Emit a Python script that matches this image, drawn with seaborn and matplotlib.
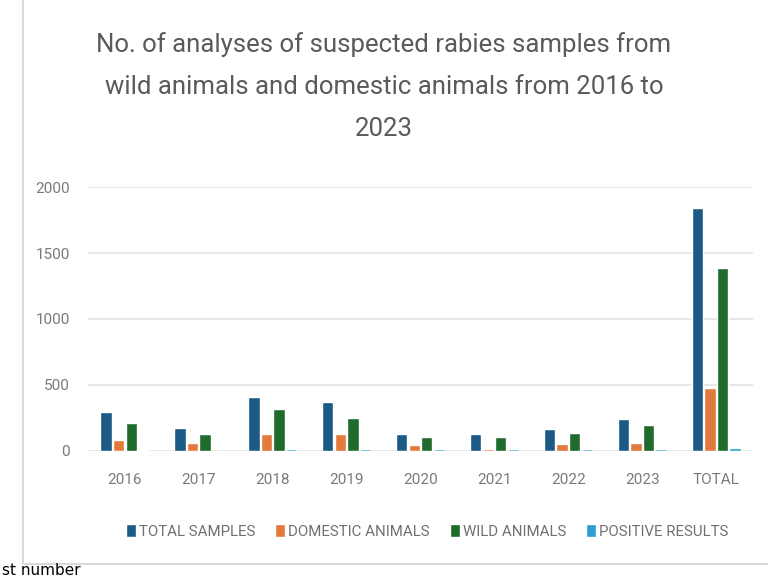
import matplotlib
matplotlib.use('Agg')
import matplotlib.pyplot as plt
from matplotlib.patches import Rectangle
import numpy as np
import pandas as pd
import seaborn as sns

# %% data
categories = ['2016', '2017', '2018', '2019', '2020', '2021', '2022', '2023', 'TOTAL']
total_samples = [295, 177, 412, 371, 126, 126, 170, 245, 1844]
domestic_animals = [83, 58, 132, 132, 43, 12, 51, 64, 480]
wild_animals = [215, 126, 316, 253, 109, 109, 139, 200, 1384]
positive_results = [4, 3, 18, 16, 14, 12, 12, 14, 22]
series_names = ['TOTAL SAMPLES', 'DOMESTIC ANIMALS', 'WILD ANIMALS', 'POSITIVE RESULTS']
colors = ['#1b5a85', '#e27a3c', '#1f6b2c', '#2a9fd0']

df = pd.DataFrame({'year': categories,
                   series_names[0]: total_samples,
                   series_names[1]: domestic_animals,
                   series_names[2]: wild_animals,
                   series_names[3]: positive_results})
df_long = df.melt(id_vars='year', var_name='series', value_name='count')

# %% plot
sns.set_theme(style='white')
plt.rcParams['font.family'] = ['Roboto', 'DejaVu Sans']

fig = plt.figure(figsize=(7.68, 5.77), dpi=100)
ax = fig.add_axes([0.1146, 0.2184, 0.866, 0.4575])

sns.barplot(data=df_long, x='year', y='count', hue='series', order=categories,
            hue_order=series_names, palette=colors, width=0.68, gap=0.1,
            saturation=1, ax=ax)

ax.set_ylim(0, 2000)
ax.set_yticks([0, 500, 1000, 1500, 2000])
ax.yaxis.grid(True, color='#e3e3e3', linewidth=1.2)
ax.set_axisbelow(True)
sns.despine(ax=ax, left=True, bottom=True)
ax.set_xlabel('')
ax.set_ylabel('')
ax.tick_params(axis='both', colors='#7a7a7a', labelsize=11, length=0)
ax.tick_params(axis='x', pad=16)
ax.tick_params(axis='y', pad=13)

ax.legend(loc='center', bbox_to_anchor=(0.51, -0.305), ncol=4, frameon=False,
          fontsize=10.8, labelcolor='#707070', handlelength=0.7, handleheight=0.9,
          handletextpad=0.2, columnspacing=1.3)

fig.suptitle('No. of analyses of suspected rabies samples from\n'
             'wild animals and domestic animals from 2016 to\n2023',
             y=0.945, fontsize=18.5, color='#5a5a5a', linespacing=1.95)

# frame of the screenshot
fig.add_artist(Rectangle((0.03, 0.022), 0.99, 1.0, transform=fig.transFigure,
                         fill=False, edgecolor='#d9d9d9', linewidth=1.5))
fig.text(0.003, 0.003, 'st number', fontsize=11, color='black',
         family=['DejaVu Sans'])

fig.savefig('out.png', dpi=100, facecolor='white')
